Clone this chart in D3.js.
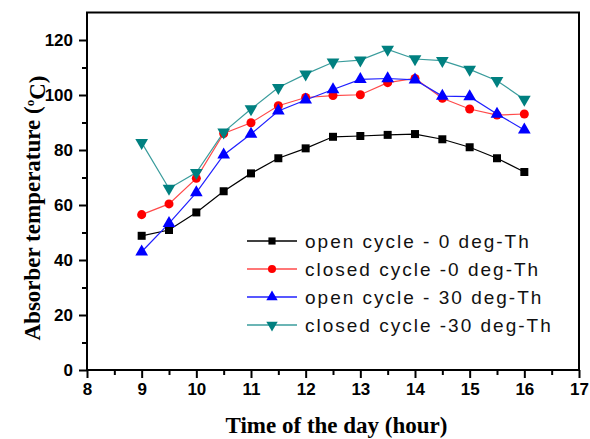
<!DOCTYPE html>
<html>
<head>
<meta charset="utf-8">
<script src="https://cdn.jsdelivr.net/npm/d3@7"></script>
<style>
  body { margin: 0; background: #fff; }
  svg { display: block; }
</style>
</head>
<body>
<div id="chart"></div>
<script>
var hours = [9, 9.5, 10, 10.5, 11, 11.5, 12, 12.5, 13, 13.5, 14, 14.5, 15, 15.5, 16];
var open0 = [48.8, 50.9, 57.3, 65, 71.5, 77, 80.6, 84.8, 85.1, 85.5, 85.8, 83.9, 81, 77, 72];
var closed0 = [56.5, 60.4, 69.7, 86, 89.9, 96.1, 99.1, 99.8, 100.1, 104.5, 106, 98.8, 94.9, 92.7, 93.1];
var open30 = [43, 53.3, 64.5, 78.2, 85.8, 94.2, 98.2, 102, 105.7, 106, 105.5, 99.6, 99.4, 93.1, 87.3];
var closed30 = [82.7, 66, 71.8, 86.5, 94.9, 102.7, 107.6, 111.9, 112.7, 116.6, 113.1, 112.5, 109.3, 105.2, 98.4];

var seriesNames = ["open cycle - 0 deg-Th", "closed cycle -0 deg-Th", "open cycle - 30 deg-Th", "closed cycle -30 deg-Th"];
var xTicks = [8, 9, 10, 11, 12, 13, 14, 15, 16, 17];
var yTicks = [0, 20, 40, 60, 80, 100, 120];

var width = 590, height = 439;
var margin = { top: 12.5, right: 11, bottom: 69, left: 87 };

var svg = d3.select("#chart").append("svg")
  .attr("width", width)
  .attr("height", height);

var x = d3.scaleLinear().domain([8, 17]).range([margin.left, width - margin.right]);
var y = d3.scaleLinear().domain([0, 130]).range([height - margin.bottom, margin.top]);

var series = [
  { name: seriesNames[0], values: open0, color: "#000000", line: "#000000", symbol: d3.symbolSquare, size: 64, rot: 0 },
  { name: seriesNames[1], values: closed0, color: "#ff0000", line: "#ff4a4a", symbol: d3.symbolCircle, size: 64, rot: 0 },
  { name: seriesNames[2], values: open30, color: "#0000ff", line: "#2020ff", symbol: d3.symbolTriangle, size: 70, rot: 0 },
  { name: seriesNames[3], values: closed30, color: "#008080", line: "#3a9c9c", symbol: d3.symbolTriangle, size: 70, rot: 180 }
];

// frame
svg.append("rect")
  .attr("x", x(8)).attr("y", y(130))
  .attr("width", x(17) - x(8)).attr("height", y(0) - y(130))
  .attr("fill", "none").attr("stroke", "#000").attr("stroke-width", 2);

// minor ticks
var minorX = [];
for (var i = 8; i < 17; i++) minorX.push(i + 0.5);
var minorY = [];
for (var j = 10; j < 130; j += 20) minorY.push(j);

svg.append("g")
  .attr("transform", "translate(0," + y(0) + ")")
  .call(d3.axisBottom(x).tickValues(minorX).tickSize(5).tickFormat(""))
  .call(function (g) { g.select(".domain").remove(); })
  .selectAll("line").attr("stroke-width", 2);

svg.append("g")
  .attr("transform", "translate(" + x(8) + ",0)")
  .call(d3.axisLeft(y).tickValues(minorY).tickSize(5).tickFormat(""))
  .call(function (g) { g.select(".domain").remove(); })
  .selectAll("line").attr("stroke-width", 2);

// major axes
var xAxis = svg.append("g")
  .attr("transform", "translate(0," + y(0) + ")")
  .call(d3.axisBottom(x).tickValues(xTicks).tickSize(8).tickPadding(5).tickFormat(d3.format("d")));
var yAxis = svg.append("g")
  .attr("transform", "translate(" + x(8) + ",0)")
  .call(d3.axisLeft(y).tickValues(yTicks).tickSize(8).tickPadding(6).tickFormat(d3.format("d")));

[xAxis, yAxis].forEach(function (g) {
  g.select(".domain").remove();
  g.selectAll("line").attr("stroke-width", 2);
  g.selectAll("text")
    .attr("fill", "#000")
    .style("font-family", "'Liberation Sans', Arial, sans-serif")
    .style("font-weight", "bold")
    .style("font-size", "17px");
});

// lines and markers
var line = d3.line()
  .x(function (d) { return x(d[0]); })
  .y(function (d) { return y(d[1]); });

series.forEach(function (s) {
  var pts = hours.map(function (h, k) { return [h, s.values[k]]; });
  svg.append("path")
    .datum(pts)
    .attr("fill", "none")
    .attr("stroke", s.line)
    .attr("stroke-width", 1.2)
    .attr("d", line);
});

series.forEach(function (s) {
  var pts = hours.map(function (h, k) { return [h, s.values[k]]; });
  svg.append("g")
    .selectAll("path")
    .data(pts)
    .enter()
    .append("path")
    .attr("d", d3.symbol().type(s.symbol).size(s.size)())
    .attr("transform", function (d) {
      return "translate(" + x(d[0]) + "," + y(d[1]) + ") rotate(" + s.rot + ")";
    })
    .attr("fill", s.color);
});

// legend
var legend = svg.append("g").attr("transform", "translate(247,241)");
series.forEach(function (s, k) {
  var row = legend.append("g").attr("transform", "translate(0," + k * 28 + ")");
  row.append("line")
    .attr("x1", 0).attr("x2", 50)
    .attr("stroke", s.line).attr("stroke-width", 1.5);
  row.append("path")
    .attr("d", d3.symbol().type(s.symbol).size(s.size * 0.8)())
    .attr("transform", "translate(25,0) rotate(" + s.rot + ")")
    .attr("fill", s.color);
  row.append("text")
    .attr("x", 58)
    .attr("dy", "0.36em")
    .style("font-family", "'Liberation Sans', Arial, sans-serif")
    .style("font-size", "19px")
    .style("letter-spacing", "2px")
    .attr("fill", "#111")
    .text(s.name);
});

// axis titles
svg.append("text")
  .attr("x", 336.5)
  .attr("y", 433)
  .attr("text-anchor", "middle")
  .style("font-family", "'Liberation Serif', 'Times New Roman', serif")
  .style("font-weight", "bold")
  .style("font-size", "23px")
  .text("Time of the day (hour)");

var yt = svg.append("text")
  .attr("transform", "translate(40,208) rotate(-90)")
  .attr("text-anchor", "middle")
  .style("font-family", "'Liberation Serif', 'Times New Roman', serif")
  .style("font-weight", "bold")
  .style("font-size", "23px");
yt.append("tspan").text("Absorber temperature (");
yt.append("tspan").attr("dy", "-0.45em").style("font-size", "13px").text("o");
yt.append("tspan").attr("dy", "0.45em").text("C)");
</script>
</body>
</html>
